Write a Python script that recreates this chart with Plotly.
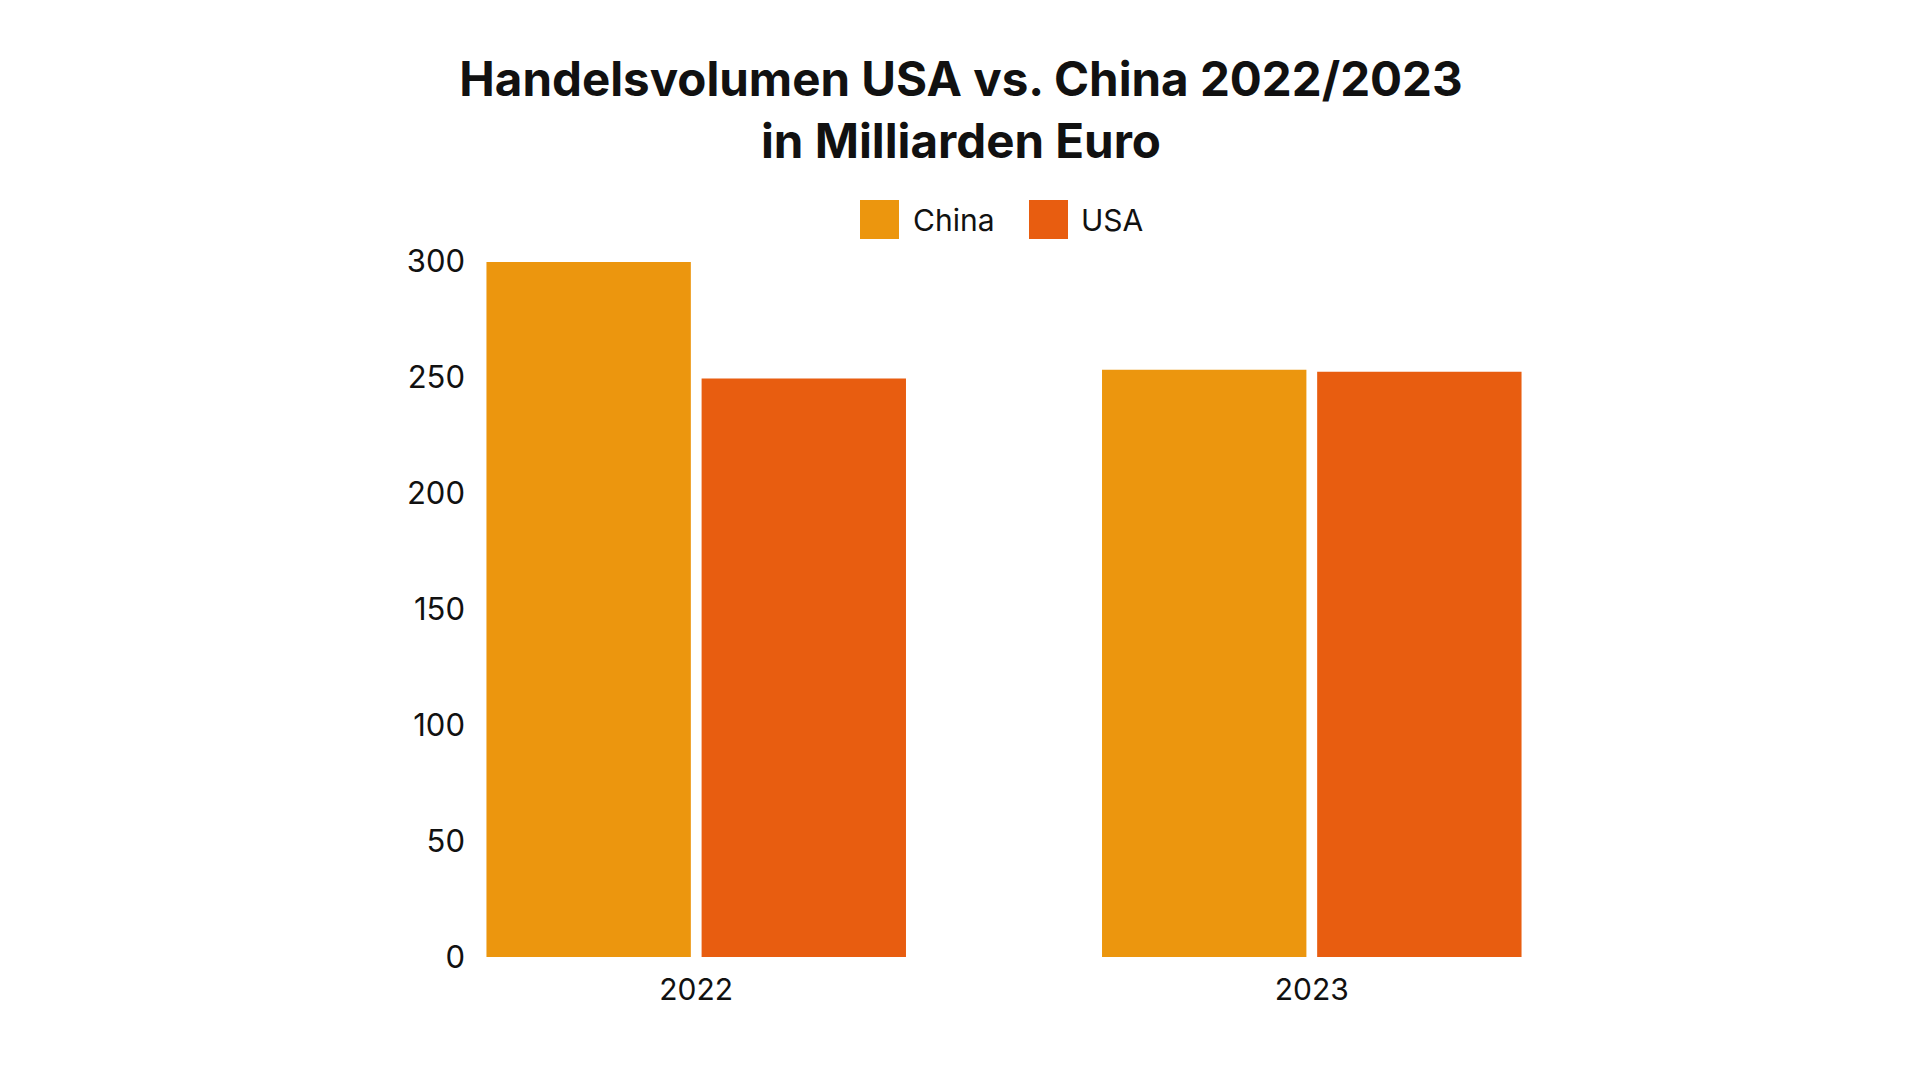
import plotly.graph_objects as go

years = ["2022", "2023"]
china = [299.6, 253.1]
usa = [249.4, 252.3]
series_names = ["China", "USA"]
colors = ["#EC960E", "#E85D10"]
y_ticks = [0, 50, 100, 150, 200, 250, 300]

W, H = 1920, 1080
L, R, T, B = 466, 378, 261, 123
font_family = "Inter, Lato, sans-serif"

fig = go.Figure()
for name, vals, col in zip(series_names, [china, usa], colors):
    fig.add_trace(go.Bar(x=years, y=vals, name=name, marker=dict(color=col, line=dict(width=0)),
                         showlegend=False))

# custom legend with large square swatches
pw, ph = W - L - R, H - T - B
def px_x(p):
    return (p - L) / pw
def px_y(p):
    return (H - B - p) / ph

legend_items = [(series_names[0], colors[0], 860, 911), (series_names[1], colors[1], 1029, 1079)]
shapes, annotations = [], []
for name, col, sx, tx in legend_items:
    shapes.append(dict(type="rect", xref="paper", yref="paper",
                       x0=px_x(sx), x1=px_x(sx + 39), y0=px_y(239), y1=px_y(200),
                       fillcolor=col, line=dict(width=0)))
    annotations.append(dict(xref="paper", yref="paper", x=px_x(tx), y=px_y(220),
                            xanchor="left", yanchor="middle", text=name, showarrow=False,
                            font=dict(family=font_family, size=30, color="#111111")))

fig.update_layout(
    width=W, height=H,
    margin=dict(l=L, r=R, t=T, b=B, pad=0),
    paper_bgcolor="white", plot_bgcolor="white",
    barmode="group", bargap=0.301, bargroupgap=0.05,
    title=dict(text="Handelsvolumen USA vs. China 2022/2023<br>in Milliarden Euro",
               x=961 / W, xanchor="center", y=1 - 96 / H, yanchor="middle", yref="container",
               font=dict(family=font_family, size=47.5, color="#111111", weight=700)),
    xaxis=dict(range=[-0.374, 1.374], showgrid=False, zeroline=False, showline=False,
               ticks="", ticklabelstandoff=12,
               tickfont=dict(family=font_family, size=30, color="#111111")),
    yaxis=dict(range=[0, 300], tickvals=y_ticks, showgrid=False, zeroline=False, showline=False,
               ticks="", tickfont=dict(family=font_family, size=31, color="#111111")),
    shapes=shapes, annotations=annotations,
)

fig.write_html("out.html", config={"displayModeBar": False},
               post_script="document.body.style.margin='0';")
